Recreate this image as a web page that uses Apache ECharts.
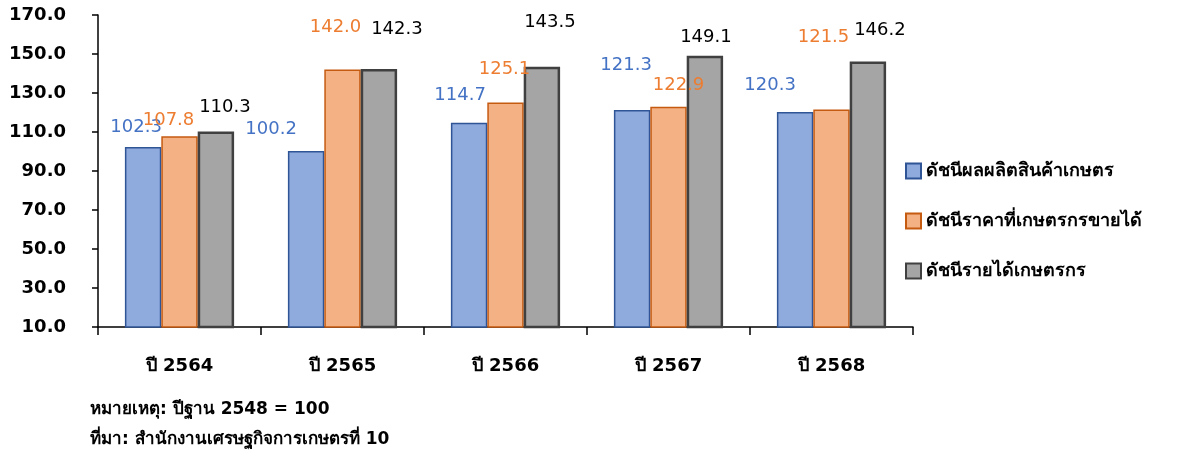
<!DOCTYPE html>
<html><head><meta charset="utf-8">
<script src="https://cdn.jsdelivr.net/npm/echarts@6/dist/echarts.min.js"></script>
<style>html,body{margin:0;padding:0;background:#fff}#c{width:1181px;height:457px}</style>
</head><body><div id="c"></div>
<script>
const categories = ['ปี 2564','ปี 2565','ปี 2566','ปี 2567','ปี 2568'];
const seriesNames = ['ดัชนีผลผลิตสินค้าเกษตร','ดัชนีราคาที่เกษตรกรขายได้','ดัชนีรายได้เกษตรกร'];
const productionIndex = [102.3, 100.2, 114.7, 121.3, 120.3];
const priceIndex = [107.8, 142.0, 125.1, 122.9, 121.5];
const incomeIndex = [110.3, 142.3, 143.5, 149.1, 146.2];
const yTicks = {min: 10, max: 170, interval: 20};
const noteLines = ['หมายเหตุ: ปีฐาน 2548 = 100', 'ที่มา: สำนักงานเศรษฐกิจการเกษตรที่ 10'];

// label offsets (layout only)
const offProd = [[-7,-11],[-35,-13],[-9,-19],[-6,-36],[-25,-18]];
const offPrice = [[-11,-7],[-7,-33],[-1,-24],[10,-13],[-8,-63]];
const offIncome = [[9,-15],[18,-31],[8,-35],[1,-9],[12,-22]];

const FONT = 'Tahoma, "DejaVu Sans", "Noto Sans", sans-serif';
function mk(name, vals, offs, fill, border, bw, lc){
  return {
    name, type:'bar', data: vals.map((v,i)=>({value:v, label:{offset:offs[i]}})),
    barGap:'0%', barCategoryGap:'33%',
    itemStyle:{color:fill, borderColor:border, borderWidth:bw},
    label:{show:true, position:'top', distance:0, color:lc, fontSize:18, fontFamily:FONT,
      formatter:p=>p.value.toFixed(1)}
  };
}
const chart = echarts.init(document.getElementById('c'));
chart.setOption({
  animation:false,
  textStyle:{fontFamily:FONT},
  grid:{left:98, right:268, top:15, bottom:130},
  legend:{orient:'vertical', left:900, top:157, itemGap:32, itemWidth:15, itemHeight:15,
    icon:'rect', textStyle:{fontSize:18, fontWeight:'bold', color:'#000', fontFamily:FONT}},
  xAxis:{type:'category', data:categories,
    axisLine:{lineStyle:{color:'#000', width:1.5}},
    axisTick:{show:true, length:8, lineStyle:{color:'#000', width:1.5}},
    axisLabel:{color:'#000', fontSize:18, fontWeight:'bold', margin:30, fontFamily:FONT}},
  yAxis:{type:'value', min:yTicks.min, max:yTicks.max, interval:yTicks.interval,
    axisLine:{show:true, lineStyle:{color:'#000', width:1.5}},
    axisTick:{show:true, length:6, lineStyle:{color:'#000', width:1.5}},
    splitLine:{show:false},
    axisLabel:{color:'#000', fontSize:18, fontWeight:'bold', margin:32, fontFamily:FONT,
      formatter:v=>v.toFixed(1)}},
  graphic:[
    {type:'text', left:90, top:401, style:{text:noteLines[0], fontSize:17, fontWeight:'bold', fill:'#000', fontFamily:FONT}},
    {type:'text', left:90, top:431, style:{text:noteLines[1], fontSize:17, fontWeight:'bold', fill:'#000', fontFamily:FONT}}
  ],
  series:[
    mk(seriesNames[0], productionIndex, offProd, '#8FAADC', '#2F5597', 1.5, '#4472C4'),
    mk(seriesNames[1], priceIndex, offPrice, '#F4B183', '#C55A11', 1.5, '#ED7D31'),
    mk(seriesNames[2], incomeIndex, offIncome, '#A5A5A5', '#404040', 2.5, '#000')
  ]
});
</script></body></html>
